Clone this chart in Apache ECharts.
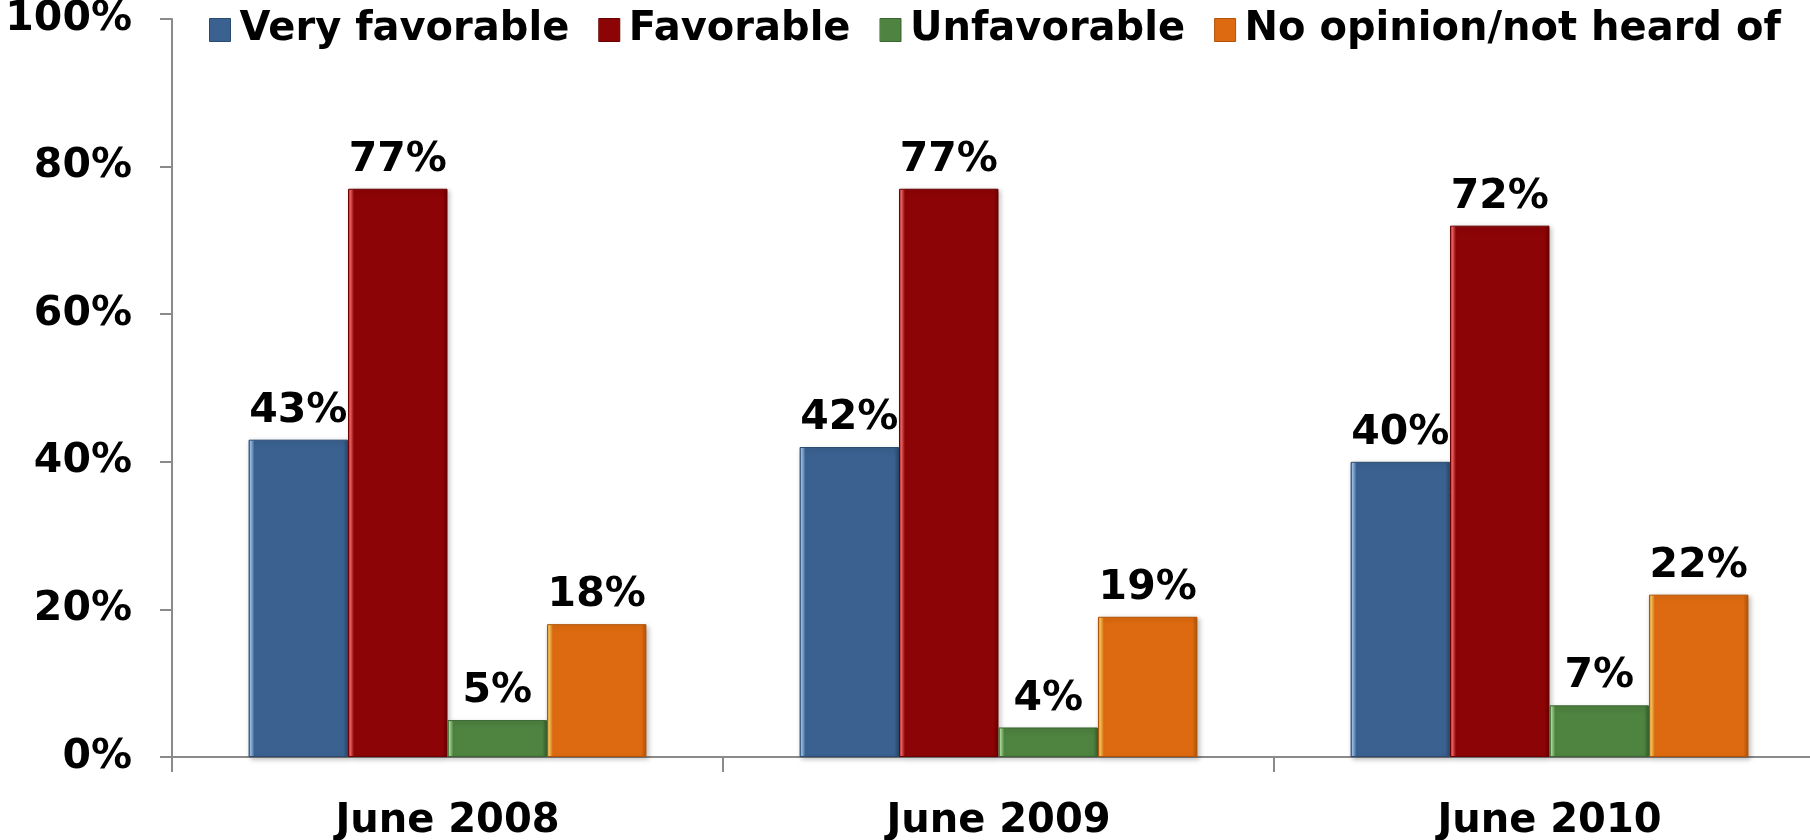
<!DOCTYPE html>
<html>
<head>
<meta charset="utf-8">
<script src="https://cdn.jsdelivr.net/npm/echarts@6/dist/echarts.min.js"></script>
<style>
html,body{margin:0;padding:0;background:#fff;}
#chart{width:1810px;height:840px;}
</style>
</head>
<body>
<div id="chart"></div>
<script>
const categories = ['June 2008', 'June 2009', 'June 2010'];
const seriesNames = ['Very favorable', 'Favorable', 'Unfavorable', 'No opinion/not heard of'];
const veryFavorable = [43, 42, 40];
const favorable = [77, 77, 72];
const unfavorable = [5, 4, 7];
const noOpinion = [18, 19, 22];
const yTicks = [0, 20, 40, 60, 80, 100];

const baseColors = ['#3A6190', '#8C0406', '#4E8340', '#DD6A10'];
const lightColors = ['#9CC3EE', '#FF6A6A', '#A8DD92', '#FFD060'];
const darkColors = ['#2A4A70', '#6A0002', '#3A6430', '#B05206'];
const values = [veryFavorable, favorable, unfavorable, noOpinion];

const FONT = '"DejaVu Sans", Verdana, sans-serif';

function barFill(i) {
  return new echarts.graphic.LinearGradient(0, 0, 1, 0, [
    { offset: 0, color: darkColors[i] },
    { offset: 0.02, color: lightColors[i] },
    { offset: 0.06, color: baseColors[i] },
    { offset: 0.95, color: baseColors[i] },
    { offset: 1, color: darkColors[i] }
  ]);
}

const chart = echarts.init(document.getElementById('chart'), null, { renderer: 'canvas' });

const series = seriesNames.map((name, i) => ({
  name: name,
  type: 'bar',
  data: values[i],
  barGap: '0%',
  barCategoryGap: '27.8%',
  itemStyle: {
    color: barFill(i),
    borderColor: darkColors[i],
    borderWidth: 1,
    shadowColor: 'rgba(0,0,0,0.25)',
    shadowBlur: 5,
    shadowOffsetX: 2,
    shadowOffsetY: 2
  },
  label: {
    show: true,
    position: 'top',
    distance: 8,
    formatter: '{c}%',
    color: '#000',
    fontFamily: FONT,
    fontWeight: 'bold',
    fontSize: 41
  }
}));

chart.setOption({
  animation: false,
  backgroundColor: '#fff',
  color: baseColors,
  legend: {
    data: seriesNames.map((n, i) => ({ name: n, itemStyle: { color: barFill(i), borderColor: darkColors[i], borderWidth: 1 } })),
    left: 204,
    top: 5,
    width: 1640,
    itemWidth: 21,
    itemHeight: 23,
    itemGap: 29,
    icon: 'rect',
    textStyle: {
      color: '#000',
      fontFamily: FONT,
      fontWeight: 'bold',
      fontSize: 40,
      padding: [0, 0, 0, 4]
    }
  },
  grid: {
    left: 172,
    top: 19,
    width: 1653,
    bottom: 83,
    containLabel: false,
    outerBoundsMode: 'none'
  },
  xAxis: {
    type: 'category',
    data: categories,
    axisLine: { show: true, lineStyle: { color: '#8a8a8a', width: 2 } },
    axisTick: { show: true, length: 15, lineStyle: { color: '#8a8a8a', width: 2 } },
    axisLabel: {
      color: '#000',
      fontFamily: FONT,
      fontWeight: 'bold',
      fontSize: 40,
      margin: 45
    },
    splitLine: { show: false }
  },
  yAxis: {
    type: 'value',
    min: yTicks[0],
    max: yTicks[yTicks.length - 1],
    interval: yTicks[1] - yTicks[0],
    axisLine: { show: true, lineStyle: { color: '#8a8a8a', width: 2 } },
    axisTick: { show: true, length: 12, lineStyle: { color: '#8a8a8a', width: 2 } },
    axisLabel: {
      color: '#000',
      fontFamily: FONT,
      fontWeight: 'bold',
      fontSize: 41,
      margin: 40,
      formatter: '{value}%'
    },
    splitLine: { show: false }
  },
  series: series
});
</script>
</body>
</html>
